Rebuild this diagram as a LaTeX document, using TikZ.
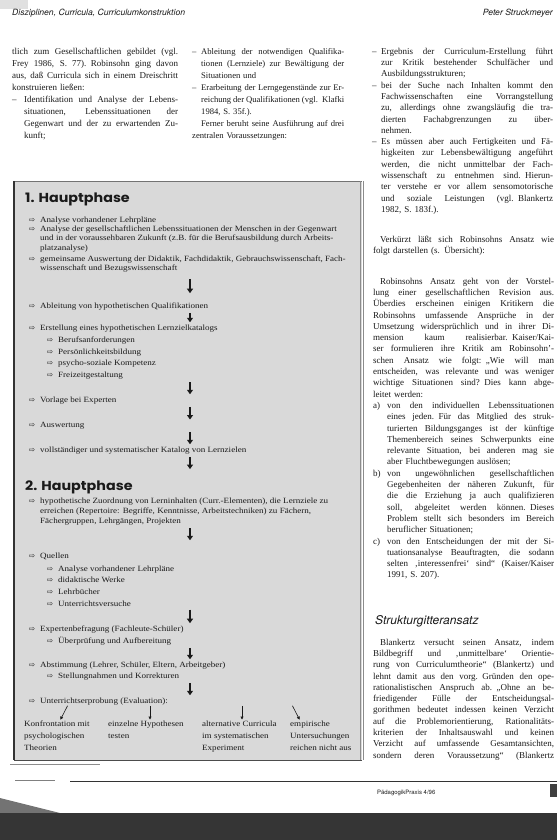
\documentclass[tikz,border=0pt]{standalone}
\usepackage{fontspec}
\setmainfont{Liberation Serif}
\newfontfamily\boxfont[FakeStretch=1.13]{Liberation Serif}
\newfontfamily\headsans[FakeStretch=1.1]{Poppins}
\newfontfamily\obsans{TeX Gyre Heros}
\newfontfamily\symfont{DejaVu Sans}
\usetikzlibrary{arrows.meta,positioning}

\definecolor{boxgrey}{HTML}{D9D9D9}
\definecolor{ink}{HTML}{1A1A1A}
\definecolor{scanband}{HTML}{353535}

% one justified line of a column
\def\cw{160pt}
\newcommand{\jl}[1]{\leavevmode\hbox to \cw{\spaceskip=.28em plus 1em minus .08em\relax #1}}
% markers
\newcommand{\mk}{{\symfont\fontsize{7.5}{7.5}\selectfont ⇨}}
\newcommand{\li}{\llap{\mk\hspace{5pt}}}
\newcommand{\dsh}{\llap{\makebox[9pt][l]{–}}}
\newcommand{\hang}{\hspace*{14pt}}

\begin{document}
\begin{tikzpicture}[x=1pt,y=-1pt,
flow/.style={-{Triangle[length=4.5pt,width=6pt]},line width=1.7pt,draw=ink,shorten <=3pt,shorten >=2pt},
tick/.style={-{Triangle[length=3pt,width=3pt]},line width=0.6pt,draw=ink,shorten <=1pt,shorten >=1pt}]

\tikzstyle{every node}=[inner sep=0pt,anchor=north west,text=ink]
\tikzstyle{colone}=[align=left,font=\fontsize{9}{12}\selectfont,execute at begin node={\def\cw{166pt}}]
\tikzstyle{coltwo}=[align=left,font=\fontsize{8.6}{12}\selectfont,execute at begin node={\def\cw{143pt}}]
\tikzstyle{colthree}=[align=left,font=\fontsize{9}{11.3}\selectfont,execute at begin node={\def\cw{181pt}}]
\tikzstyle{boxtext}=[align=left,font=\boxfont\fontsize{8}{9.5}\selectfont]
\tikzstyle{sublist}=[align=left,font=\boxfont\fontsize{8}{11.7}\selectfont]
\tikzstyle{phase}=[anchor=base west,font=\headsans\bfseries\fontsize{13}{15}\selectfont]
\tikzstyle{single}=[anchor=base west,font=\boxfont\fontsize{8}{9.5}\selectfont]
\tikzstyle{result}=[align=left,font=\boxfont\fontsize{8}{12}\selectfont]

%page
\useasboundingbox (0,0) rectangle (557,840);
\fill[white] (0,0) rectangle (557,840);
\fill[black!12] (0,0) rectangle (28,9);

%running head
\node[anchor=base west,font=\obsans\itshape\fontsize{8.6}{9}\selectfont]
(headl) at (12,16)
{Disziplinen, Curricula, Curriculumkonstruktion};
\node[anchor=base east,font=\obsans\itshape\fontsize{8.6}{9}\selectfont]
(headr) at (553,16)
{Peter Struckmeyer};

%first column
\node[colone,text width=166pt]
(colA) at (12,48)
{\jl{tlich zum Gesellschaftlichen gebildet (vgl.}\\
\jl{Frey 1986, S. 77). Robinsohn ging davon}\\
\jl{aus, daß Curricula sich in einem Dreischritt}\\
konstruieren ließen:\\
\jl{\makebox[12pt][l]{–}Identifikation und Analyse der Lebens-}\\
\jl{\hspace*{12pt}situationen, Lebenssituationen der}\\
\jl{\hspace*{12pt}Gegenwart und der zu erwartenden Zu-}\\
\hspace*{12pt}kunft;};

%second column
\node[coltwo,text width=143pt]
(colB) at (201,48)
{\jl{\dsh Ableitung der notwendigen Qualifika-}\\
\jl{tionen (Lernziele) zur Bewältigung der}\\
Situationen und\\
\jl{\dsh Erarbeitung der Lerngegenstände zur Er-}\\
\jl{reichung der Qualifikationen (vgl. Klafki}\\
1984, S. 35f.).\\
\jl{Ferner beruht seine Ausführung auf drei}\\
\hspace*{-9pt}zentralen Voraussetzungen:};

%third column
\node[colthree,text width=172pt,execute at begin node={\def\cw{172pt}}]
(colC) at (381,47.7)
{\jl{\dsh Ergebnis der Curriculum-Erstellung führt}\\
\jl{zur Kritik bestehender Schulfächer und}\\
Ausbildungsstrukturen;\\
\jl{\dsh bei der Suche nach Inhalten kommt den}\\
\jl{Fachwissenschaften eine Vorrangstellung}\\
\jl{zu, allerdings ohne zwangsläufig die tra-}\\
\jl{dierten Fachabgrenzungen zu über-}\\
nehmen.\\
\jl{\dsh Es müssen aber auch Fertigkeiten und Fä-}\\
\jl{higkeiten zur Lebensbewältigung angeführt}\\
\jl{werden, die nicht unmittelbar der Fach-}\\
\jl{wissenschaft zu entnehmen sind. Hierun-}\\
\jl{ter verstehe er vor allem sensomotorische}\\
\jl{und soziale Leistungen (vgl. Blankertz}\\
1982, S. 183f.).};

\node[colthree,text width=181pt]
(short) at (373,235.7)
{\jl{\hspace*{7pt}Verkürzt läßt sich Robinsohns Ansatz wie}\\
folgt darstellen (s. Übersicht):};

\node[colthree,text width=181pt]
(critique) at (373,277.7)
{\jl{\hspace*{7pt}Robinsohns Ansatz geht von der Vorstel-}\\
\jl{lung einer gesellschaftlichen Revision aus.}\\
\jl{Überdies erscheinen einigen Kritikern die}\\
\jl{Robinsohns umfassende Ansprüche in der}\\
\jl{Umsetzung widersprüchlich und in ihrer Di-}\\
\jl{mension kaum realisierbar. Kaiser/Kai-}\\
\jl{ser formulieren ihre Kritik am Robinsohn’-}\\
\jl{schen Ansatz wie folgt: „Wie will man}\\
\jl{entscheiden, was relevante und was weniger}\\
\jl{wichtige Situationen sind? Dies kann abge-}\\
leitet werden:\\
\jl{\makebox[14pt][l]{a)}von den individuellen Lebenssituationen}\\
\jl{\hang eines jeden. Für das Mitglied des struk-}\\
\jl{\hang turierten Bildungsganges ist der künftige}\\
\jl{\hang Themenbereich seines Schwerpunkts eine}\\
\jl{\hang relevante Situation, bei anderen mag sie}\\
\hang aber Fluchtbewegungen auslösen;\\
\jl{\makebox[14pt][l]{b)}von ungewöhnlichen gesellschaftlichen}\\
\jl{\hang Gegebenheiten der näheren Zukunft, für}\\
\jl{\hang die die Erziehung ja auch qualifizieren}\\
\jl{\hang soll, abgeleitet werden können. Dieses}\\
\jl{\hang Problem stellt sich besonders im Bereich}\\
\hang beruflicher Situationen;\\
\jl{\makebox[14pt][l]{c)}von den Entscheidungen der mit der Si-}\\
\jl{\hang tuationsanalyse Beauftragten, die sodann}\\
\jl{\hang selten ‚interessenfrei‘ sind“ (Kaiser/Kaiser}\\
\hang 1991, S. 207).};

\node[anchor=base west,font=\obsans\itshape\fontsize{12}{13}\selectfont]
(grid) at (375,624)
{Strukturgitteransatz};

\node[colthree,text width=181pt]
(blank) at (373,638.7)
{\jl{\hspace*{7pt}Blankertz versucht seinen Ansatz, indem}\\
\jl{Bildbegriff und ‚unmittelbare‘ Orientie-}\\
\jl{rung von Curriculumtheorie“ (Blankertz) und}\\
\jl{lehnt damit aus den vorg. Gründen den ope-}\\
\jl{rationalistischen Anspruch ab. „Ohne an be-}\\
\jl{friedigender Fülle der Entscheidungsal-}\\
\jl{gorithmen bedeutet indessen keinen Verzicht}\\
\jl{auf die Problemorientierung, Rationalitäts-}\\
\jl{kriterien der Inhaltsauswahl und keinen}\\
\jl{Verzicht auf umfassende Gesamtansichten,}\\
\jl{sondern deren Voraussetzung“ (Blankertz}};

%grey box
\fill[boxgrey] (14,181) rectangle (362,760);
\draw[black!55,line width=0.6pt] (14,181) -- (362,181);
\draw[black!80,line width=1.6pt] (14,181) -- (14,760);
\draw[black!70,line width=1pt] (14,760) -- (362,760);
\draw[black!45,line width=0.6pt] (360,181) -- (360,760);
\draw[black!45,line width=0.6pt] (363,181) -- (363,760);

\coordinate (ax) at (190,0);

%1. Hauptphase
\node[phase]
(ph1) at (25,202)
{1. Hauptphase};

\node[single]
(a1) at (40,222)
{\li Analyse vorhandener Lehrpläne};

\node[boxtext]
(a2) at (40,225.5)
{\li Analyse der gesellschaftlichen Lebenssituationen der Menschen in der Gegenwart\\
und in der voraussehbaren Zukunft (z.B. für die Berufsausbildung durch Arbeits-\\
platzanalyse)};

\node[boxtext]
(a3) at (40,255.5)
{\li gemeinsame Auswertung der Didaktik, Fachdidaktik, Gebrauchswissenschaft, Fach-\\
wissenschaft und Bezugswissenschaft};

\node[single]
(a4) at (40,308)
{\li Ableitung von hypothetischen Qualifikationen};

\node[single]
(a5) at (40,330)
{\li Erstellung eines hypothetischen Lernzielkatalogs};

\node[sublist]
(a5s) at (58,336.5)
{\li Berufsanforderungen\\
\li Persönlichkeitsbildung\\
\li psycho-soziale Kompetenz\\
\li Freizeitgestaltung};

\node[single]
(a6) at (40,402)
{\li Vorlage bei Experten};

\node[single]
(a7) at (40,427)
{\li Auswertung};

\node[single]
(a8) at (40,452)
{\li vollständiger und systematischer Katalog von Lernzielen};

%2. Hauptphase
\node[phase]
(ph2) at (25,490)
{2. Hauptphase};

\node[boxtext,font=\boxfont\fontsize{8}{10}\selectfont]
(b1) at (40,497.5)
{\li hypothetische Zuordnung von Lerninhalten (Curr.-Elementen), die Lernziele zu\\
erreichen (Repertoire: Begriffe, Kenntnisse, Arbeitstechniken) zu Fächern,\\
Fächergruppen, Lehrgängen, Projekten};

\node[single]
(b2) at (40,558)
{\li Quellen};

\node[sublist]
(b2s) at (58,565.5)
{\li Analyse vorhandener Lehrpläne\\
\li didaktische Werke\\
\li Lehrbücher\\
\li Unterrichtsversuche};

\node[single]
(b3) at (40,631)
{\li Expertenbefragung (Fachleute-Schüler)};

\node[single]
(b3s) at (58,643)
{\li Überprüfung und Aufbereitung};

\node[single]
(b4) at (40,667)
{\li Abstimmung (Lehrer, Schüler, Eltern, Arbeitgeber)};

\node[single]
(b4s) at (58,678)
{\li Stellungnahmen und Korrekturen};

\node[single]
(b5) at (40,703)
{\li Unterrichtserprobung (Evaluation):};

\node[result]
(r1) at (24,720.5)
{Konfrontation mit\\psychologischen\\Theorien};

\node[result]
(r2) at (108,720.5)
{einzelne Hypothesen\\testen};

\node[result]
(r3) at (202,720.5)
{alternative Curricula\\im systematischen\\Experiment};

\node[result]
(r4) at (290,720.5)
{empirische\\Untersuchungen\\reichen nicht aus};

\draw[flow,shorten <=6pt,shorten >=9pt] (a3.south -| ax) -- (a4.north -| ax);
\draw[flow] (a4.south -| ax) -- (a5.north -| ax);
\draw[flow] (a5s.south -| ax) -- (a6.north -| ax);
\draw[flow] (a6.south -| ax) -- (a7.north -| ax);
\draw[flow] (a7.south -| ax) -- (a8.north -| ax);
\draw[flow,shorten >=11pt] (a8.south -| ax) -- (ph2.north -| ax);
\draw[flow,shorten >=12pt] (b1.south -| ax) -- (b2.north -| ax);
\draw[flow] (b2s.south -| ax) -- (b3.north -| ax);
\draw[flow] (b3s.south -| ax) -- (b4.north -| ax);
\draw[flow] (b4s.south -| ax) -- (b5.north -| ax);

\draw[tick] ([xshift=28pt]b5.south west) -- ([xshift=36pt]r1.north west);
\draw[tick] ([xshift=110pt]b5.south west) -- ([xshift=42pt]r2.north west);
\draw[tick] ([xshift=202pt]b5.south west) -- ([xshift=40pt]r3.north west);
\draw[tick] ([xshift=252pt]b5.south west) -- ([xshift=10pt]r4.north west);

%foot of the page
\draw[black!45,line width=0.6pt] (10,764) -- (100,764);
\draw[black!50,line width=0.6pt] (15,780) -- (55,780);
\draw[black!80,line width=0.7pt] (70,781) -- (557,781);
\node[anchor=base west,font=\obsans\fontsize{6}{7}\selectfont]
(foot) at (377,794)
{PädagogikPraxis 4/96};
\fill[black!75] (550,784) rectangle (557,797);
\fill[black!55] (0,798) -- (60,813) -- (0,813) -- cycle;
\fill[scanband] (0,813) rectangle (557,840);

\end{tikzpicture}
\end{document}
